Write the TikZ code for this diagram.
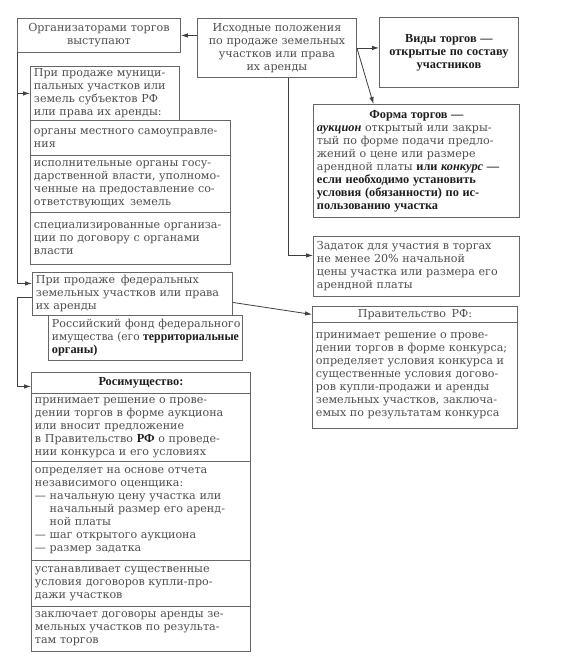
\documentclass[tikz,border=0pt]{standalone}
\usepackage{fontspec}
\setmainfont{DejaVu Serif}[FakeStretch=1.01]
\newfontfamily\bfam{Liberation Serif}[Scale=1.12]
\usetikzlibrary{arrows.meta,calc}
\definecolor{txt}{HTML}{4E4E4E}
\definecolor{ln}{HTML}{666666}
\definecolor{bd}{HTML}{1E1E1E}
\newcommand\B[1]{{\bfam\bfseries\color{bd}#1}}
\newcommand\BI[1]{{\bfam\bfseries\itshape\color{bd}#1}}
\newcommand\J[1]{\makebox[\linewidth][s]{#1}}
\newcommand\N[1]{\makebox[\linewidth][l]{#1}}
\newcommand\C[1]{\makebox[\linewidth][c]{#1}}
\newcommand\R[1]{\resizebox{\linewidth}{\height}{#1}}
\newcommand\drawbox[6]{%
  \pgfmathsetmacro\bw{#4-#2}%
  \pgfmathsetmacro\bh{#5-#3}%
  \pgfmathsetmacro\tw{#4-#2-7}%
  \node[box, minimum width=\bw pt, minimum height=\bh pt, text width=\tw pt] (#1) at (#2,#3) {#6};}
\begin{document}
\begin{tikzpicture}[x=1pt,y=-1pt,
  box/.style={draw=ln, line width=0.9pt, anchor=north west, inner xsep=3.5pt, inner ysep=1pt,
    text=txt, align=left, font=\fontsize{11}{13}\selectfont},
  arr/.style={draw=bd!85, line width=0.8pt, -{Latex[length=7pt,width=4.5pt]}}]
\useasboundingbox[fill=white] (0,0) rectangle (570,666);

\drawbox{org}{17}{18}{180}{52}{\C{Организаторами торгов}\\\C{выступают}}
\drawbox{src}{197}{18}{356}{77}{\C{Исходные положения}\\\C{по продаже земельных}\\\C{участков или права}\\\C{их аренды}}
\drawbox{vid}{379}{17}{518}{87}{\C{\B{Виды торгов —}}\\\C{\B{открытые по составу}}\\\C{\B{участников}}}
\drawbox{forma}{313}{104}{519}{217}{\C{\B{Форма торгов —}}\\
\J{\BI{аукцион} открытый или закры-}\\
\J{тый по форме подачи предло-}\\
\J{жений о цене или размере}\\
\J{арендной платы \B{или \BI{конкурс} —}}\\
\J{\B{если необходимо установить}}\\
\J{\B{условия (обязанности) по ис-}}\\
\N{\B{пользованию участка}}}
\drawbox{zad}{313}{236}{519}{296}{\J{Задаток для участия в торгах}\\\N{не менее 20\% начальной}\\\J{цены участка или размера его}\\\N{арендной платы}}

\drawbox{muni}{30}{66}{179}{120}{\J{При продаже муници-}\\\J{пальных участков или}\\\J{земель субъектов РФ}\\\J{или права их аренды:}}
\drawbox{mA}{30}{120}{230}{155}{\J{органы местного самоуправле-}\\\N{ния}}
\drawbox{mB}{30}{155}{230}{212}{\J{исполнительные органы госу-}\\\J{дарственной власти, уполномо-}\\\J{ченные на предоставление со-}\\\N{ответствующих\enspace земель}}
\drawbox{mC}{30}{212}{230}{264}{\J{специализированные организа-}\\\J{ции по договору с органами}\\\N{власти}}

\drawbox{fed}{32}{272}{232}{315}{\N{При продаже\enspace федеральных}\\\J{земельных участков или права}\\\N{их аренды}}
\drawbox{rff}{48}{315}{242}{360}{\J{Российский фонд федерального}\\\R{имущества (его \B{территориальные}}\\\N{\B{органы)}}}

\drawbox{pravH}{312}{306}{517}{322}{\C{Правительство\enspace РФ:}}
\drawbox{pravB}{312}{322}{517}{428}{\N{принимает решение о прове-}\\\J{дении торгов в форме конкурса;}\\\J{определяет условия конкурса и}\\\J{существенные условия догово-}\\\N{ров купли-продажи и аренды}\\\J{земельных участков, заключа-}\\\J{емых по результатам конкурса}}

\drawbox{rosH}{31}{372}{250}{393}{\C{\B{Росимущество:}}}
\drawbox{rosA}{31}{393}{250}{461}{\J{принимает решение о прове-}\\\J{дении торгов в форме аукциона}\\\N{или вносит предложение}\\\J{в Правительство \B{РФ} о проведе-}\\\J{нии конкурса и его условиях}}
\drawbox{rosB}{31}{461}{250}{560}{\N{определяет на основе отчета}\\\N{независимого оценщика:}\\\N{— начальную цену участка или}\\\N{\phantom{— }начальный размер его аренд-}\\\N{\phantom{— }ной платы}\\\N{— шаг открытого аукциона}\\\N{— размер задатка}}
\drawbox{rosC}{31}{560}{250}{606}{\N{устанавливает существенные}\\\N{условия договоров купли-про-}\\\N{дажи участков}}
\drawbox{rosD}{31}{606}{250}{651}{\J{заключает договоры аренды зе-}\\\J{мельных участков по результа-}\\\N{там торгов}}

% connectors
\draw[arr] (src.west |- org.east) -- (org.east);
\draw[arr] (src.east) -- (vid.west |- src.east);
\draw[arr] (src.east) -- ([xshift=-43pt]forma.north);
\draw[arr] ([xshift=11.5pt]src.south) |- ([yshift=11pt]zad.west);
\draw[arr] (org.south west) |- (muni.west);
\draw[arr] (org.south west) |- ([yshift=10.5pt]fed.west);
\coordinate (f1) at ([yshift=-3.5pt]fed.west);
\draw[arr] (f1) -- (f1 -| org.west) |- ([yshift=-3.5pt]rosH.west);
\draw[arr] ([yshift=-8.5pt]fed.east) -- (pravH.west);
\end{tikzpicture}
\end{document}
